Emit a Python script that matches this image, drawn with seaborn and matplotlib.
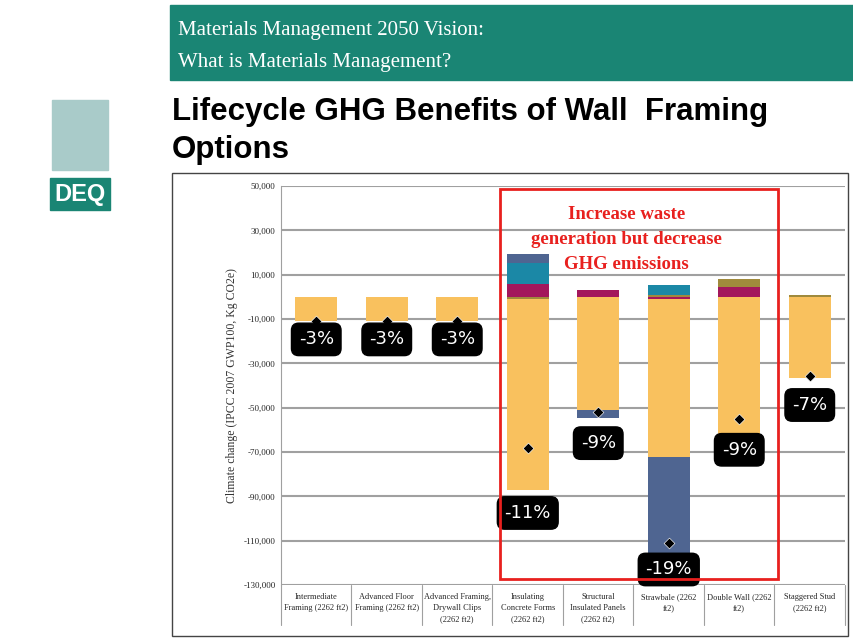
import numpy as np
import pandas as pd
import seaborn as sns
import matplotlib.pyplot as plt
from matplotlib.patches import Rectangle

categories = ["Intermediate\nFraming (2262 ft2)", "Advanced Floor\nFraming (2262 ft2)",
              "Advanced Framing,\nDrywall Clips\n(2262 ft2)", "Insulating\nConcrete Forms\n(2262 ft2)",
              "Structural\nInsulated Panels\n(2262 ft2)", "Strawbale (2262\nft2)",
              "Double Wall (2262\nft2)", "Staggered Stud\n(2262 ft2)"]
magenta = [0, 0, 0, 5800, 3100, -800, 4300, 0]
olive = [0, 0, 0, -1000, 0, 1000, 3800, 800]
orange = [-10800, -10800, -10800, -86000, -51000, -71500, -62700, -36800]
teal = [0, 0, 0, 9500, 0, 4500, 0, 0]
navy = [0, 0, 0, 3800, -3500, -44000, 0, 0]
net = [-11000, -11000, -11000, -68000, -52000, -111000, -55000, -35600]
pct_labels = ["-3%", "-3%", "-3%", "-11%", "-9%", "-19%", "-9%", "-7%"]
pct_y = [-19200, -19200, -19200, -97500, -66000, -123000, -69000, -48800]

series = {"magenta": (magenta, "#A3175C"), "olive": (olive, "#A08A3C"),
          "orange": (orange, "#F9C15E"), "teal": (teal, "#1B88A6"),
          "navy": (navy, "#4F6591")}

sns.set_style("white")
fig = plt.figure(figsize=(8.54, 6.43), dpi=100)

# slide header
fig.patches.append(Rectangle((170 / 854, 1 - 80 / 643), 684 / 854, 75 / 643,
                             transform=fig.transFigure, color="#1A8574", zorder=0))
fig.text(178 / 854, 1 - 30 / 643, "Materials Management 2050 Vision:", color="white",
         family="Liberation Serif", fontsize=15, va="center")
fig.text(178 / 854, 1 - 62 / 643, "What is Materials Management?", color="white",
         family="Liberation Serif", fontsize=15, va="center")
fig.text(172 / 854, 1 - 112 / 643, "Lifecycle GHG Benefits of Wall  Framing", color="black",
         family="Liberation Sans", weight="bold", fontsize=22.5, va="center")
fig.text(172 / 854, 1 - 150 / 643, "Options", color="black",
         family="Liberation Sans", weight="bold", fontsize=22.5, va="center")
# logo
fig.patches.append(Rectangle((50 / 854, 1 - 210 / 643), 60 / 854, 32 / 643,
                             transform=fig.transFigure, color="#1A8574"))
fig.text(80 / 854, 1 - 194 / 643, "DEQ", color="white", family="Liberation Sans",
         weight="bold", fontsize=17, ha="center", va="center")
fig.patches.append(Rectangle((52 / 854, 1 - 170 / 643), 56 / 854, 70 / 643,
                             transform=fig.transFigure, color="#A9CBC9"))
# chart border
fig.patches.append(Rectangle((172 / 854, 1 - 636 / 643), 676 / 854, 463 / 643,
                             transform=fig.transFigure, fill=False, ec="#444444", lw=1))

ax = fig.add_axes([281 / 854, 1 - 585 / 643, 564 / 854, 399 / 643])
x = np.arange(len(categories))
pos_base = np.zeros(len(categories))
neg_base = np.zeros(len(categories))
for name, (vals, col) in series.items():
    vals = np.array(vals, dtype=float)
    bottom = np.where(vals >= 0, pos_base, neg_base)
    df = pd.DataFrame({"cat": categories, "val": vals})
    sns.barplot(data=df, x="cat", y="val", bottom=bottom, color=col, width=0.59,
                saturation=1, linewidth=0, ax=ax, zorder=3)
    pos_base += np.where(vals >= 0, vals, 0)
    neg_base += np.where(vals < 0, vals, 0)

sns.scatterplot(x=x, y=net, marker="D", color="black", s=30, ax=ax, zorder=5)
for xi, lab, yy in zip(x, pct_labels, pct_y):
    ax.text(xi, yy, lab, color="white", fontsize=13, ha="center", va="center", zorder=6,
            bbox=dict(boxstyle="round,pad=0.4", fc="black", ec="black"))

ax.add_patch(Rectangle((2.6, -127400), 3.95, 175900, fill=False, ec="#E8201E", lw=2, zorder=7))
for yy, t in zip([37300, 26000, 14800],
                 ["Increase waste", "generation but decrease", "GHG emissions"]):
    ax.text(4.4, yy, t, color="#E8201E", family="Liberation Serif", weight="bold",
            fontsize=13.5, ha="center", va="center", zorder=7)

ax.set_ylim(-130000, 50000)
ax.set_xlim(-0.5, 7.5)
ax.set_yticks(np.arange(-130000, 50001, 20000))
ax.set_yticklabels([f"{v:,}" for v in range(-130000, 50001, 20000)],
                   family="Liberation Serif", fontsize=6.5)
ax.yaxis.grid(True, color="#A0A0A0", lw=1.5, zorder=0)
ax.set_xticks(x)
ax.set_xticklabels(categories, family="Liberation Serif", fontsize=6, linespacing=1.5)
ax.tick_params(axis="x", length=0, pad=6)
ax.tick_params(axis="y", length=0, pad=4)
ax.set_xlabel("")
ax.set_ylabel("Climate change (IPCC 2007 GWP100, Kg CO2e)", family="Liberation Serif",
              fontsize=8.5, color="#333333", labelpad=4)
for s in ["top", "right", "bottom"]:
    ax.spines[s].set_visible(False)
ax.spines["left"].set_color("#A0A0A0")
for b in np.arange(-0.5, 8, 1):
    ax.plot([b, b], [-130000, -148000], color="#A0A0A0", lw=0.8, clip_on=False)

fig.savefig("out.png", dpi=100)
